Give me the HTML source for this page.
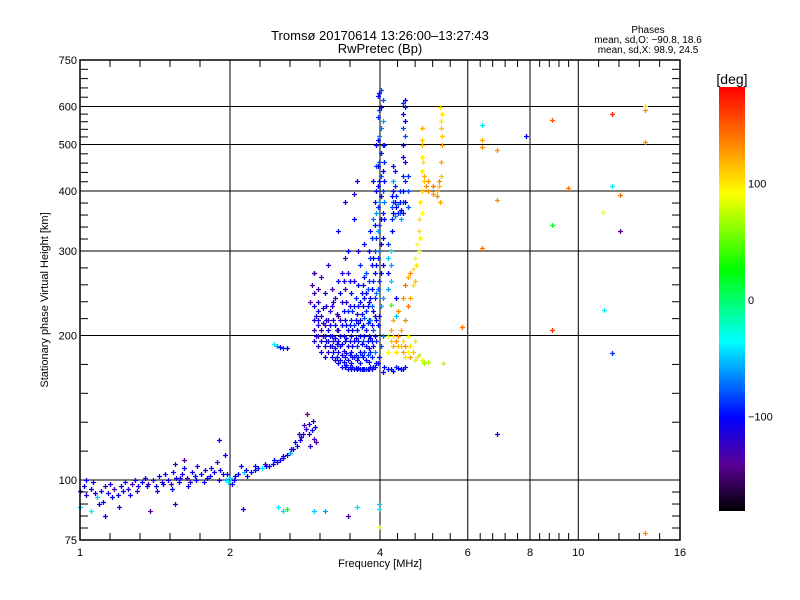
<!DOCTYPE html>
<html><head><meta charset="utf-8"><style>
body{margin:0;background:#fff;}
svg{display:block;font-family:"Liberation Sans",sans-serif;}
</style></head><body>
<svg id="chart" width="800" height="600" viewBox="0 0 800 600" xmlns="http://www.w3.org/2000/svg">
<rect width="800" height="600" fill="#fff"/>
<text x="380" y="40" text-anchor="middle" font-size="13">Tromsø 20170614 13:26:00–13:27:43</text>
<text x="380" y="53" text-anchor="middle" font-size="13">RwPretec (Bp)</text>
<text x="648" y="33" text-anchor="middle" font-size="10">Phases</text>
<text x="648" y="43" text-anchor="middle" font-size="10">mean, sd,O: −90.8, 18.6</text>
<text x="648" y="53" text-anchor="middle" font-size="10">mean, sd,X:  98.9, 24.5</text>
<text transform="translate(48,300) rotate(-90)" text-anchor="middle" font-size="11">Stationary phase Virtual Height [km]</text>
<text x="380" y="567" text-anchor="middle" font-size="11">Frequency [MHz]</text>
<text x="732" y="84" text-anchor="middle" font-size="14">[deg]</text>
<defs>
<linearGradient id="cbg" x1="0" y1="1" x2="0" y2="0">
<stop offset="0" stop-color="#000"/>
<stop offset="0.11" stop-color="#5a0096"/>
<stop offset="0.22" stop-color="#0000ff"/>
<stop offset="0.40" stop-color="#00ffff"/>
<stop offset="0.57" stop-color="#00ff00"/>
<stop offset="0.75" stop-color="#ffff00"/>
<stop offset="0.86" stop-color="#ff8c00"/>
<stop offset="1" stop-color="#ff0000"/>
</linearGradient>
</defs>
<rect x="719" y="87" width="26" height="424" fill="url(#cbg)"/>
<g id="cblabels" font-size="11"></g>
<g id="grid"></g>
<g id="marks"></g>
<g id="axes"></g>
</svg>
<script>
// ---- Low band echoes (rows of 10): frequency MHz, height km, phase deg
const lowFreq = [
[1.00,1.02,1.03,1.05,1.06,1.08,1.09,1.10,1.12,1.14],
[1.15,1.17,1.19,1.21,1.23,1.25,1.27,1.29,1.31,1.33],
[1.35,1.37,1.40,1.42,1.44,1.46,1.48,1.50,1.52,1.54],
[1.56,1.58,1.60,1.62,1.64,1.66,1.68,1.70,1.72,1.75],
[1.78,1.80,1.83,1.86,1.88,1.91,1.94,1.96,1.98,2.00],
[2.02,2.05,2.08,2.10,2.13,2.16,2.20,2.24,2.28,2.32],
[2.36,2.40,2.44,2.48,2.52,2.56,2.60,2.64,2.68,2.72],
[2.76,2.80,2.84,2.88,2.92,2.95,2.98,2.86,2.90,2.75],
[1.90,1.95,1.62,1.55,1.03,1.07,1.11,1.16,1.22,1.26],
[1.30,1.36,1.43,1.47,1.53,1.59,1.65,1.71,1.77,1.82],
[1.90,1.97,2.04,2.15,2.25,2.35,2.45,2.55,2.65,2.70],
[2.78,2.82,2.88,2.93,2.96,2.92,2.95,2.90,2.45,2.48],
[2.52,2.56,2.60]
];
const lowHeight = [
[95,97,93,96,99,92,89,95,97,94],
[98,96,93,97,99,96,98,100,97,99],
[101,98,100,97,102,99,103,100,98,104],
[101,99,103,106,101,99,104,102,107,103],
[105,101,106,104,109,105,103,100,99,101],
[98,102,103,107,104,102,104,105,106,106],
[107,107,108,109,110,111,113,114,116,118],
[121,125,128,131,127,122,120,137,118,125],
[121,113,110,108,100,94,90,92,95,93],
[95,97,95,98,96,101,97,100,99,102],
[100,103,100,105,107,108,110,112,116,120],
[123,130,125,133,129,255,270,235,192,190],
[189,188,188]
];
const lowPhase = [
[-110,-105,-120,-105,-110,-45,-105,-110,-120,-105],
[-110,-130,-105,-110,-100,-115,-130,-105,-110,-100],
[-105,-130,-110,-105,-100,-120,-110,-105,-130,-105],
[-110,-100,-115,-105,-130,-110,-105,-100,-110,-105],
[-120,-100,-105,-110,-130,-105,-100,-50,-40,-45],
[-105,-110,-100,-105,-50,-110,-105,-100,-105,-40],
[-100,-105,-110,-100,-105,-110,-100,-60,-105,-100],
[-110,-130,-120,-110,-100,-130,-140,-140,-120,-110],
[-100,-105,-140,-130,-100,-105,-110,-105,-110,-105],
[-120,-105,-110,-100,-105,-110,-105,-100,-110,-105],
[-105,-100,-105,-100,-105,-110,-100,-105,-110,-100],
[-120,-130,-110,-120,-105,-130,-120,-140,-40,-60],
[-100,-90,-100]
];
// ---- Scattered low echoes (80-89 km)
const scatFreq = [[1.00,1.05,1.12,1.20,1.38,1.55,2.12,2.50,2.55,2.60],[2.95,3.10,3.45,3.60,3.98,3.98,3.98]];
const scatHeight = [[88,86,84,88,86,89,87,88,86,87],[86,86,84,88,87,89,80]];
const scatPhase = [[-50,-40,-110,-130,-140,-110,-100,-40,-45,20],[-50,-60,-130,-45,-40,-50,90]];
// ---- F-region O-mode echoes, grouped by frequency column
const colFreq = [2.95,2.97,3.00,3.05,3.07,3.10,3.12,3.15,3.18,3.20,3.22,3.25,3.28,3.30,3.32,3.35,3.38,3.40,3.42,3.45,3.48,3.50,3.52,3.55,3.58,3.60,3.62,3.65,3.68,3.70,3.72,3.75,3.78,3.80,3.82,3.85,3.88,3.90,3.92,3.97,3.99,4.02,4.06,4.08,4.22,4.25,4.28,4.30,4.35,4.38,4.40,4.45,4.50,4.55,4.15,4.20];
const colHeights = [
[195,205,215,230,245,270],[200,220],[200,210,190,225,215,235,250],[195,205,185,220,265],[200,212,228],
[200,190,210,180,245],[195,215,230],[185,195,205,215,280],[190,200,210,225],[180,190,200,230,250],
[185,195,215,235],[178,188,198,210,240],[180,192,205,222],[175,185,195,205,220,260,330],[178,190,200,215,245],
[172,182,192,210,235,270],[176,186,200,225,260],[172,180,195,215,250,290,380],[174,184,198,210,235],[170,178,190,205,225,270,300],
[172,182,195,210,230,260],[170,175,185,200,215,245],[172,180,190,205,225],[170,180,195,210,230,260,350,395],[171,182,198,215,240],
[170,178,190,205,222,420],[171,180,195,212,230,255,300],[170,175,185,200,215,235,280],[170,182,192,208,222,245],[170,180,195,210,230,255],
[170,185,200,218,240,265,310],[170,178,190,205,225,245,270],[170,182,195,212,230,250],[170,176,188,200,215,235,260,300],[172,185,198,215,240,290,330],
[170,180,195,210,230,250,280,320],[172,190,205,225,260,290,350,420],[172,185,200,220,240,270,300,340,380],[175,195,215,245,280,320,360,400,450,500],
[175,210,250,290,330,370,410,450,510,570,630],[180,220,260,300,340,380,420,460,520,590,640],[190,230,270,310,350,390,430,480,540,600,650],[168,200,240,280,320,360,400,440,500,560,620],[350,380,420,460,500,172],
[330,350,370,390],[360,380,400,420,450,169],[355,380,410,440],[370,390,220,240,172],[360,375,171],
[360,380,400],[350,365,170],[360,380,400,430,470,500,540,580,610,170],[380,420,460,520,560,600,620,172],[370,400,430],
[250,270,290,310,170],[260,280,300,170]
];
const colPhases = [
[-110,-130,-120,-105,-125,-130],[-105,-110],[-130,-110,-120,-105,-110,-120,-130],[-110,-130,-105,-120,-130],[-100,-120,-110],
[-110,-100,-130,-105,-110],[-105,-100,-120],[-120,-110,-105,-130,-120],[-110,-100,-105,-120],[-100,-105,-110,-120,-130],
[-100,-110,-105,-120],[-105,-110,-100,-105,-120],[-100,-105,-110,-100],[-100,-110,-105,-120,-130,-105,-100],[-105,-100,-110,-120,-100],
[-100,-110,-105,-100,-120,-110],[-100,-105,-110,-100,-110],[-100,-105,-110,-100,-120,-130,-110],[-100,-105,-95,-100,-110],[-100,-105,-110,-100,-90,-120,-100],
[-100,-95,-105,-100,-110,-100],[-110,-105,-100,-110,-95,-100],[-95,-100,-105,-100,-90],[-105,-110,-100,-90,-105,-110,-100,-120],[-100,-95,-105,-100,-90],
[-105,-120,-90,-100,-110,-100],[-100,-90,-105,-100,-95,-100,-110],[-100,-95,-105,-100,-110,-100,-90],[-100,-90,-100,-85,-100,-95],[-105,-100,-80,-100,-110,-105],
[-100,-90,-100,-80,-100,-95,-100],[-90,-100,-100,-105,-90,-100,-80],[-100,-85,-100,-90,-100,-80],[-105,-100,-110,-95,-100,-100,-85,-100],[-100,-90,-100,-70,-100,-90,-100],
[-110,-90,-100,-105,-80,-100,-105,-90],[-95,-100,-80,-100,-90,-100,-70,-100],[-100,-70,-100,-110,-90,-100,-80,-100,-95],[-100,-90,-100,-70,-100,-90,-60,-100,-80,-100],
[-100,-95,-75,-90,-60,-90,-100,-100,-100,-90,-100],[-95,-100,-90,-70,-85,-60,-100,-80,-70,-90,-100],[-80,-60,-100,-100,-100,-100,-80,-95,-70,-100,-80],[-100,-70,-60,-100,-100,-95,-80,-100,-90,-60,-80],[-100,-70,-100,-90,-100,-100],
[-100,-90,-80,-100],[-100,-80,-100,-60,-100,-100],[-70,-100,-90,-100],[-110,-90,-50,-100,-90],[-100,-70,-100],
[-80,-100,-90],[-60,-100,-100],[-100,-80,-100,-90,-100,-100,-80,-100,-90,-100],[-100,-90,-100,-80,-100,-90,-100,-95],[-80,-80,-90],
[-60,-100,-50,-90,-95],[-50,-60,-40,-100]
];
// ---- X-mode echoes (rows of 10)
const xFreq = [
[4.15,4.20,4.25,4.30,4.35,4.40,4.45,4.50,4.55,4.60],
[4.70,4.80,4.90,4.25,4.35,4.45,4.50,4.55,4.60,4.65],
[4.70,4.75,4.78,4.80,4.82,4.85,4.90,4.95,5.00,5.10],
[4.85,4.85,4.85,4.85,5.20,5.25,5.30,5.30,5.32,5.30],
[5.32,5.28,5.35,4.20,4.55,4.15,4.20,4.25,4.30,4.35],
[4.40,4.45,4.50,4.55,4.60,4.65,4.70,4.50,4.55,4.60],
[4.65,4.70,4.72,4.80,4.82,4.85,4.88,4.85,4.90,5.00],
[5.10,5.20,5.28,5.33,5.30,5.25,4.75,4.85,5.00]
];
const xHeight = [
[200,195,190,185,200,190,185,180,185,180],
[178,182,175,215,225,240,255,265,270,275],
[290,310,330,350,380,400,420,410,400,395],
[440,470,500,540,400,410,430,460,500,540],
[580,600,175,232,200,185,205,200,195,190],
[205,195,190,200,190,185,195,215,230,240],
[255,260,280,300,320,360,460,510,430,420],
[410,390,380,520,560,420,180,178,176]
];
const xPhase = [
[80,110,120,100,130,110,120,100,90,120],
[80,70,60,120,130,130,140,120,130,100],
[90,90,100,100,100,110,110,130,130,130],
[100,100,110,120,120,115,110,120,120,110],
[100,100,70,40,50,90,120,100,130,110],
[120,100,130,90,100,110,100,130,140,120],
[100,110,100,90,95,90,100,110,120,130],
[140,130,120,110,100,130,100,80,70]
];
// ---- Sparse high-frequency echoes
const sparseFreq = [[6.41,6.41,6.41,6.87,6.87,6.41,7.85,8.86,8.86,8.86],[9.53,11.7,11.2,11.7,11.25,11.7,12.1,12.1,13.6,13.6],[13.6,5.84,6.87,13.6]];
const sparseHeight = [[549,512,495,488,383,304,520,563,340,205],[406,580,362,410,226,184,392,330,590,602],[505,208,125,77.5]];
const sparsePhase = [[-40,120,130,130,130,140,-100,150,20,160],[140,170,90,-40,-40,-90,140,-140,130,100],[130,140,-120,130]];
// ---- Axes
const cbTicks = [100, 0, -100];
const xMajor = [1,2,4,6,8,10,16];
const xLabels = ["1","2","4","6","8","10","16"];
const yMajor = [75,100,200,300,400,500,600,750];
const yLabels = ["75","100","200","300","400","500","600","750"];

const NS = "http://www.w3.org/2000/svg";
const L=80,R=680,T=60,B=540;
function xs(f){return L+(Math.log2(f))*(R-L)/4;}
function ys(h){return B-Math.log10(h/75)*(B-T);}
function cbY(p){return 300 - p*1.165;}
function mk(tag,attrs,parent){const e=document.createElementNS(NS,tag);for(const k in attrs)e.setAttribute(k,attrs[k]);parent.appendChild(e);return e;}
const stops=[[-180,[0,0,0]],[-140,[90,0,150]],[-100,[0,0,255]],[-36,[0,255,255]],[25,[0,255,0]],[90,[255,255,0]],[130,[255,140,0]],[180,[255,0,0]]];
function col(p){
  if(typeof p!=='number'||isNaN(p))p=-100;
  p=Math.max(-180,Math.min(180,p));
  for(let i=0;i<stops.length-1;i++){const a=stops[i],b=stops[i+1];
    if(p<=b[0]){const t=(p-a[0])/(b[0]-a[0]);const c=a[1].map((v,j)=>Math.round(v+(b[1][j]-v)*t));return `rgb(${c[0]},${c[1]},${c[2]})`;}}
  return "rgb(255,0,0)";
}
const grid=document.getElementById('grid'),axes=document.getElementById('axes'),marks=document.getElementById('marks'),cbl=document.getElementById('cblabels');
xMajor.forEach((v,i)=>{
  const x=xs(v);
  if(i>0&&i<xMajor.length-1){const g=mk('line',{x1:x,x2:x,y1:T,y2:B,stroke:'#000','stroke-width':1},grid);
  
  }
  const t=mk('text',{x:x,y:B+16,'text-anchor':'middle','font-size':11},axes);t.textContent=xLabels[i];
  
  
  if(i<xMajor.length-1){const x2=xs(xMajor[i+1]);
    for(let k=1;k<5;k++){const xx=x+(x2-x)*k/5;
      mk('line',{x1:xx,x2:xx,y1:B,y2:B-7,stroke:'#000'},axes);
      mk('line',{x1:xx,x2:xx,y1:T,y2:T+7,stroke:'#000'},axes);}}
});
yMajor.forEach((v,i)=>{
  const y=ys(v);
  if(i>0&&i<yMajor.length-1){const g=mk('line',{x1:L,x2:R,y1:y,y2:y,stroke:'#000','stroke-width':1},grid);
  
  }
  const t=mk('text',{x:L-3,y:y+4,'text-anchor':'end','font-size':11},axes);t.textContent=yLabels[i];
  
  
  if(i<yMajor.length-1){const y2=ys(yMajor[i+1]);
    for(let k=1;k<5;k++){const yy=y+(y2-y)*k/5;
      mk('line',{x1:L,x2:L+8,y1:yy,y2:yy,stroke:'#000'},axes);
      mk('line',{x1:R,x2:R-8,y1:yy,y2:yy,stroke:'#000'},axes);}}
});
const fr=mk('rect',{x:L,y:T,width:R-L,height:B-T,fill:'none',stroke:'#000','stroke-width':1.5},axes);



function plotPoint(f,h,p,name){
  if(typeof f!=='number'||typeof h!=='number')return;
  const x=Math.round(xs(f))+0.5,y=Math.round(ys(h))+0.5;
  const e=mk('path',{d:`M${x-2.5} ${y}H${x+2.5}M${x} ${y-2.5}V${y+2.5}`,stroke:col(p),'stroke-width':1.3},marks);
  
  
}
function plotRows(F,H,P,name){
  F.forEach((row,r)=>row.forEach((f,i)=>plotPoint(f,(H[r]||[])[i],(P[r]||[])[i],name)));
}
plotRows(lowFreq,lowHeight,lowPhase,'low-band-echo');
plotRows(scatFreq,scatHeight,scatPhase,'scattered-echo');
colFreq.forEach((f,c)=>(colHeights[c]||[]).forEach((h,i)=>plotPoint(f,h,(colPhases[c]||[])[i],'o-mode-echo')));
plotRows(xFreq,xHeight,xPhase,'x-mode-echo');
plotRows(sparseFreq,sparseHeight,sparsePhase,'sparse-echo');

cbTicks.forEach(v=>{
  const t=mk('text',{x:748,y:cbY(v)+4,'font-size':11},cbl);
  t.textContent=v<0?'−'+Math.abs(v):String(v);
  
  
});
</script>
</body></html>
